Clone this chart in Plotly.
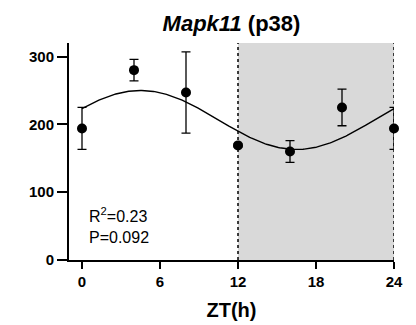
import numpy as np
import plotly.graph_objects as go

# Mean expression by Zeitgeber time, with SEM
zt_hours = [0, 4, 8, 12, 16, 20, 24]
mean_expr = [194, 280, 247, 169, 160, 225, 194]
sem_expr = [31, 16, 60, 2, 16, 27, 31]

# Cosinor fit parameters (24 h period)
mesor = 206.5
amplitude = 43.5
acrophase_h = 4.5
period_h = 24

x_ticks = [0, 6, 12, 18, 24]
y_ticks = [0, 100, 200, 300]

FONT = "Liberation Sans, Arial, sans-serif"

# plot-area pixel box
L, R, T, B = 69, 394, 43, 260

fit_x = np.linspace(0, 24, 241)
fit_y = mesor + amplitude * np.cos(2 * np.pi * (fit_x - acrophase_h) / period_h)

fig = go.Figure()

# Dark phase shading and boundaries
fig.add_shape(type="rect", x0=12, x1=24, y0=0, y1=320, xref="x", yref="y",
              fillcolor="#d9d9d9", line_width=0, layer="below")
for xv in (12, 24):
    fig.add_shape(type="line", x0=xv, x1=xv, y0=0, y1=320, xref="x", yref="y",
                  line=dict(color="black", width=1.5, dash="dot"), layer="below")

fig.add_trace(go.Scatter(
    x=fit_x, y=fit_y, mode="lines",
    line=dict(color="black", width=1.4), hoverinfo="skip", showlegend=False,
))

fig.add_trace(go.Scatter(
    x=zt_hours, y=mean_expr, mode="markers",
    marker=dict(color="black", size=10),
    error_y=dict(type="data", array=sem_expr, color="black", thickness=1.3, width=4.5),
    cliponaxis=False, showlegend=False,
))

fig.add_annotation(
    x=(87 - L) / (R - L), y=(B - 203) / (B - T),
    xref="paper", yref="paper", text="R<sup>2</sup>=0.23<br>P=0.092",
    showarrow=False, align="left", xanchor="left", yanchor="top",
    font=dict(family=FONT, size=16, color="black"),
)

fig.update_layout(
    width=416, height=325,
    margin=dict(l=L, r=416 - R, t=T, b=325 - B, autoexpand=False),
    paper_bgcolor="white", plot_bgcolor="white",
    font=dict(family=FONT, color="black"),
    title=dict(
        text="<b><i>Mapk11</i> (p38)</b>",
        x=(L + R) / 2 / 416, xanchor="center",
        y=1 - 23 / 325, yanchor="middle", yref="container",
        font=dict(family=FONT, size=22, color="black"),
    ),
    xaxis=dict(
        range=[-1, 24], tickvals=x_ticks, ticktext=[f"<b>{v}</b>" for v in x_ticks],
        showline=True, linecolor="black", linewidth=2,
        ticks="outside", ticklen=7, tickwidth=2, tickcolor="black",
        showgrid=False, zeroline=False, automargin=False,
        tickfont=dict(family=FONT, size=15, color="black"),
        title=dict(text="<b>ZT(h)</b>", font=dict(family=FONT, size=20, color="black"), standoff=14),
    ),
    yaxis=dict(
        range=[0, 320], tickvals=y_ticks, ticktext=[f"<b>{v}</b>" for v in y_ticks],
        showline=True, linecolor="black", linewidth=2,
        ticks="outside", ticklen=10, tickwidth=2, tickcolor="black",
        showgrid=False, zeroline=False, automargin=False,
        tickfont=dict(family=FONT, size=15, color="black"),
    ),
)

fig.write_html("out.html")
